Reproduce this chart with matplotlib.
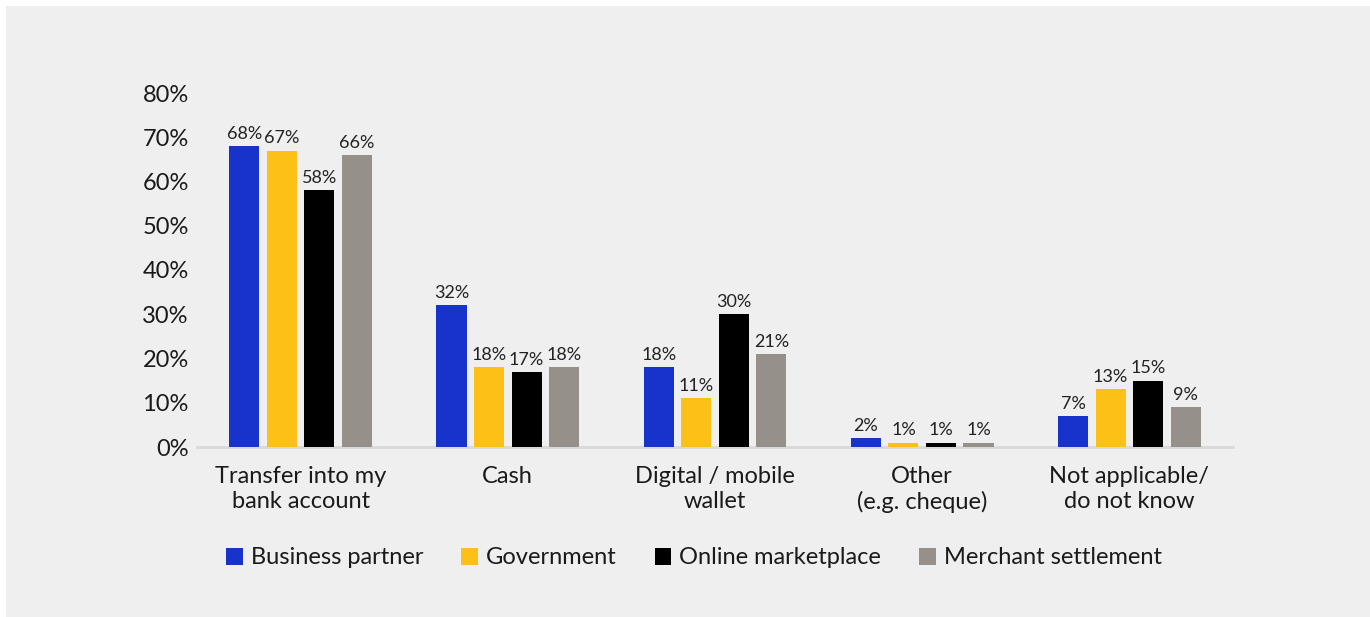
import numpy as np
import matplotlib.pyplot as plt
from matplotlib.patches import Rectangle

categories = ["Transfer into my\nbank account", "Cash", "Digital / mobile\nwallet",
              "Other\n(e.g. cheque)", "Not applicable/\ndo not know"]
series = ["Business partner", "Government", "Online marketplace", "Merchant settlement"]
business = [68, 32, 18, 2, 7]
government = [67, 18, 11, 1, 13]
online = [58, 17, 30, 1, 15]
merchant = [66, 18, 21, 1, 9]
colors = ["#1733cc", "#fcc016", "#000000", "#96908a"]

plt.rcParams['font.family'] = ['Lato', 'DejaVu Sans']

bg = "#efefef"
fig = plt.figure(figsize=(13.7, 6.17), dpi=100, facecolor="white")
fig.patches.append(Rectangle((6 / 1370, 0), 1, 1 - 6 / 617, transform=fig.transFigure,
                             facecolor=bg, edgecolor="none", zorder=-10))

ax = fig.add_axes([197 / 1370, 1 - 447 / 617, (1233 - 197) / 1370, (447 - 93) / 617])
ax.patch.set_alpha(0)

x = np.arange(len(categories))
pitch = 37.5 / 207
width = 30 / 207
data = [business, government, online, merchant]
for i, (name, vals, c) in enumerate(zip(series, data, colors)):
    pos = x + (i - 1.5) * pitch
    bars = ax.bar(pos, np.array(vals) / 100, width=width, color=c, label=name, zorder=3)
    for b, v in zip(bars, vals):
        ax.annotate(f"{v}%", (b.get_x() + b.get_width() / 2, b.get_height()),
                    xytext=(0, 3), textcoords="offset points", ha="center", va="bottom",
                    fontsize=13, color="#222222")

ax.set_xlim(-0.5, 4.5)
ax.set_ylim(0, 0.8)
ticks = np.arange(0, 0.81, 0.1)
ax.set_yticks(ticks)
ax.set_yticklabels([f"{int(round(t * 100))}%" for t in ticks])
ax.set_xticks(x)
ax.set_xticklabels(categories, linespacing=1.2)
ax.tick_params(axis="both", length=0, labelsize=17, colors="#1a1a1a")
ax.tick_params(axis="x", pad=14)
ax.tick_params(axis="y", pad=6)
for s in ["top", "right", "left"]:
    ax.spines[s].set_visible(False)
ax.spines["bottom"].set_color("#d9d9d9")
ax.spines["bottom"].set_linewidth(2)
ax.spines["bottom"].set_zorder(2)

fig.legend(loc="center", bbox_to_anchor=(694 / 1370, 1 - 558 / 617), ncol=4, frameon=False,
           fontsize=17, handlelength=0.7, handleheight=0.7, handletextpad=0.35,
           columnspacing=1.6, labelcolor="#1a1a1a")

fig.savefig("out.png", dpi=100, facecolor="white")
